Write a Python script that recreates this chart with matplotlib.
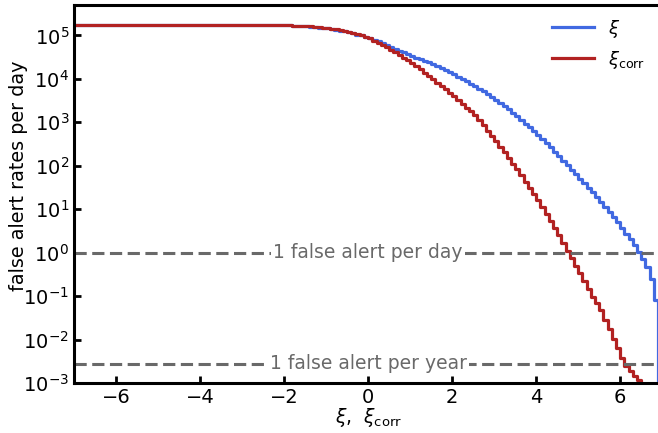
import matplotlib
matplotlib.use("Agg")
import matplotlib.pyplot as plt
import numpy as np

# log10 of false alert rate per day, one value per 0.1-wide bin starting at xi = -2.5
# (everything below -2.5 sits on the plateau value)
plateau_log = 5.24

xi_log = [
    5.24, 5.24, 5.24, 5.235, 5.235, 5.23, 5.23, 5.225, 5.22, 5.215,
    5.21, 5.20, 5.19, 5.18, 5.17, 5.16, 5.145, 5.13, 5.11, 5.09,
    5.07, 5.05, 5.02, 5.00, 4.97, 4.94, 4.90, 4.86, 4.82, 4.775,
    4.73, 4.69, 4.65, 4.61, 4.57, 4.53, 4.49, 4.45, 4.41, 4.38,
    4.34, 4.30, 4.25, 4.20, 4.15, 4.10, 4.05, 4.00, 3.94, 3.89,
    3.83, 3.77, 3.71, 3.65, 3.59, 3.52, 3.45, 3.38, 3.30, 3.22,
    3.14, 3.06, 2.97, 2.89, 2.80, 2.71, 2.62, 2.52, 2.42, 2.32,
    2.22, 2.12, 2.01, 1.91, 1.80, 1.70, 1.60, 1.49, 1.39, 1.28,
    1.17, 1.06, 0.94, 0.82, 0.70, 0.57, 0.44, 0.31, 0.18, 0.02,
    -0.14, -0.32, -0.60, -1.09, -6.0,
]

xi_corr_log = [
    5.24, 5.24, 5.24, 5.235, 5.235, 5.235, 5.23, 5.225, 5.22, 5.22,
    5.215, 5.205, 5.195, 5.185, 5.18, 5.17, 5.155, 5.14, 5.12, 5.10,
    5.08, 5.055, 5.03, 5.00, 4.965, 4.93, 4.88, 4.83, 4.78, 4.725,
    4.67, 4.61, 4.55, 4.49, 4.43, 4.36, 4.29, 4.22, 4.14, 4.07,
    3.99, 3.91, 3.84, 3.76, 3.68, 3.60, 3.51, 3.43, 3.34, 3.25,
    3.16, 3.05, 2.93, 2.81, 2.69, 2.56, 2.43, 2.31, 2.18, 2.05,
    1.92, 1.78, 1.63, 1.49, 1.35, 1.20, 1.04, 0.88, 0.72, 0.56,
    0.40, 0.22, 0.04, -0.13, -0.30, -0.47, -0.65, -0.83, -1.01, -1.17,
    -1.32, -1.54, -1.76, -1.98, -2.20, -2.42, -2.62, -2.73, -2.84, -2.94,
    -3.05, -3.20, -3.40, -3.60, -6.0,
]

per_day = 1.0
per_year = 1.0 / 365

edges = np.round(np.arange(-2.5, 6.95, 0.1), 1)
x = np.concatenate([[-8.0], edges])
y_xi = 10 ** np.array([plateau_log] + xi_log)
y_corr = 10 ** np.array([plateau_log] + xi_corr_log)

fig = plt.figure(figsize=(6.58, 4.33), dpi=100)
ax = fig.add_axes([74 / 658, 50 / 433, 584 / 658, 378 / 433])

ax.step(x, y_xi, where="post", color="royalblue", lw=2.3, label=r"$\xi$")
ax.step(x, y_corr, where="post", color="firebrick", lw=2.3, label=r"$\xi_{\rm corr}$")

for val, txt in [(per_day, "1 false alert per day"), (per_year, "1 false alert per year")]:
    ax.axhline(val, color="dimgray", ls=(0, (4, 1.8)), lw=2.2)
    ax.text(0, val, txt, color="dimgray", fontsize=13.5, ha="center", va="center",
            bbox=dict(facecolor="white", edgecolor="none", pad=1.5))

ax.set_yscale("log")
ax.set_xlim(-7, 6.9)
ax.set_ylim(1e-3, 5e5)
ax.set_xticks([-6, -4, -2, 0, 2, 4, 6])
ax.set_yticks([10.0 ** k for k in range(-3, 6)])
ax.minorticks_off()
ax.tick_params(direction="in", length=5, width=2, labelsize=14)

for s in ["left", "bottom", "top"]:
    ax.spines[s].set_linewidth(2.2)
ax.spines["right"].set_visible(False)

ax.set_xlabel(r"$\xi$,  $\xi_{\rm corr}$", fontsize=13.5)
ax.set_ylabel("false alert rates per day", fontsize=13.75)
ax.xaxis.set_label_coords(0.505, -0.062)
ax.yaxis.set_label_coords(-0.078, 0.548)

ax.legend(loc="upper right", frameon=False, fontsize=13, handlelength=2.3,
          borderaxespad=0.3)

fig.savefig("out.png", dpi=100)
